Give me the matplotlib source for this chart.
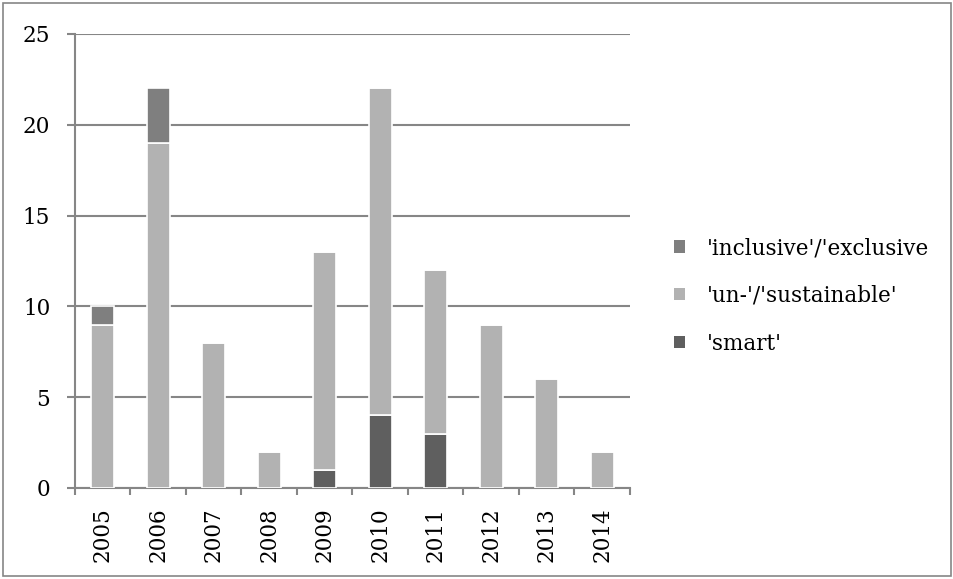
import matplotlib
matplotlib.use("Agg")
import matplotlib.pyplot as plt
from matplotlib.patches import Rectangle, Patch
import numpy as np

years = ["2005", "2006", "2007", "2008", "2009", "2010", "2011", "2012", "2013", "2014"]
smart = [0, 0, 0, 0, 1, 4, 3, 0, 0, 0]
sustainable = [9, 19, 8, 2, 12, 18, 9, 9, 6, 2]
inclusive = [1, 3, 0, 0, 0, 0, 0, 0, 0, 0]
yticks = [0, 5, 10, 15, 20, 25]

plt.rcParams['font.family'] = ['DejaVu Serif', 'Liberation Serif']

fig = plt.figure(figsize=(9.54, 5.79), dpi=100)
ax = fig.add_axes([75/954, 1-488/579, (630-75)/954, (488-34)/579])

x = np.arange(len(years))
w = 0.42
c_smart, c_sus, c_inc = '#5f5f5f', '#b2b2b2', '#7f7f7f'
smart_a = np.array(smart); sus_a = np.array(sustainable); inc_a = np.array(inclusive)
ax.bar(x, smart_a, w, color=c_smart, edgecolor='white', linewidth=1.2, zorder=3)
ax.bar(x, sus_a, w, bottom=smart_a, color=c_sus, edgecolor='white', linewidth=1.2, zorder=3)
ax.bar(x, inc_a, w, bottom=smart_a + sus_a, color=c_inc, edgecolor='white', linewidth=1.2, zorder=3)

FS = 15.5
ax.set_xlim(-0.5, len(years) - 0.5)
ax.set_ylim(0, 25)
ax.set_yticks(yticks)
ax.set_yticklabels([str(v) for v in yticks], fontsize=FS)
ax.set_xticks(np.arange(len(years) + 1) - 0.5, minor=False)
ax.set_xticklabels([''] * (len(years) + 1))
ax.set_xticks(x, minor=True)
ax.set_xticklabels(years, minor=True, rotation=90, fontsize=FS)
ax.tick_params(axis='x', which='minor', length=0, pad=14)
ax.tick_params(axis='x', which='major', length=5, direction='out', color='#868686', width=1.5)
ax.tick_params(axis='y', length=5.8, direction='out', color='#868686', width=1.5, pad=12)

ax.yaxis.grid(True, color='#868686', linewidth=1.5, zorder=0)
for s in ['top', 'right']:
    ax.spines[s].set_visible(False)
for s in ['left', 'bottom']:
    ax.spines[s].set_color('#868686')
    ax.spines[s].set_linewidth(1.5)

handles = [Patch(facecolor=c_inc), Patch(facecolor=c_sus), Patch(facecolor=c_smart)]
labels = ["'inclusive'/'exclusive", "'un-'/'sustainable'", "'smart'"]
fig.legend(handles, labels, loc='center left', bbox_to_anchor=(655/954, 1-296/579),
           frameon=False, fontsize=FS, handlelength=0.5, handleheight=0.5,
           handletextpad=1.0, labelspacing=1.2)

fig.patches.append(Rectangle((3/954, 3/579), 948/954, 573/579, transform=fig.transFigure,
                             fill=False, edgecolor='#868686', linewidth=1.2))

fig.savefig('out.png', dpi=100)
